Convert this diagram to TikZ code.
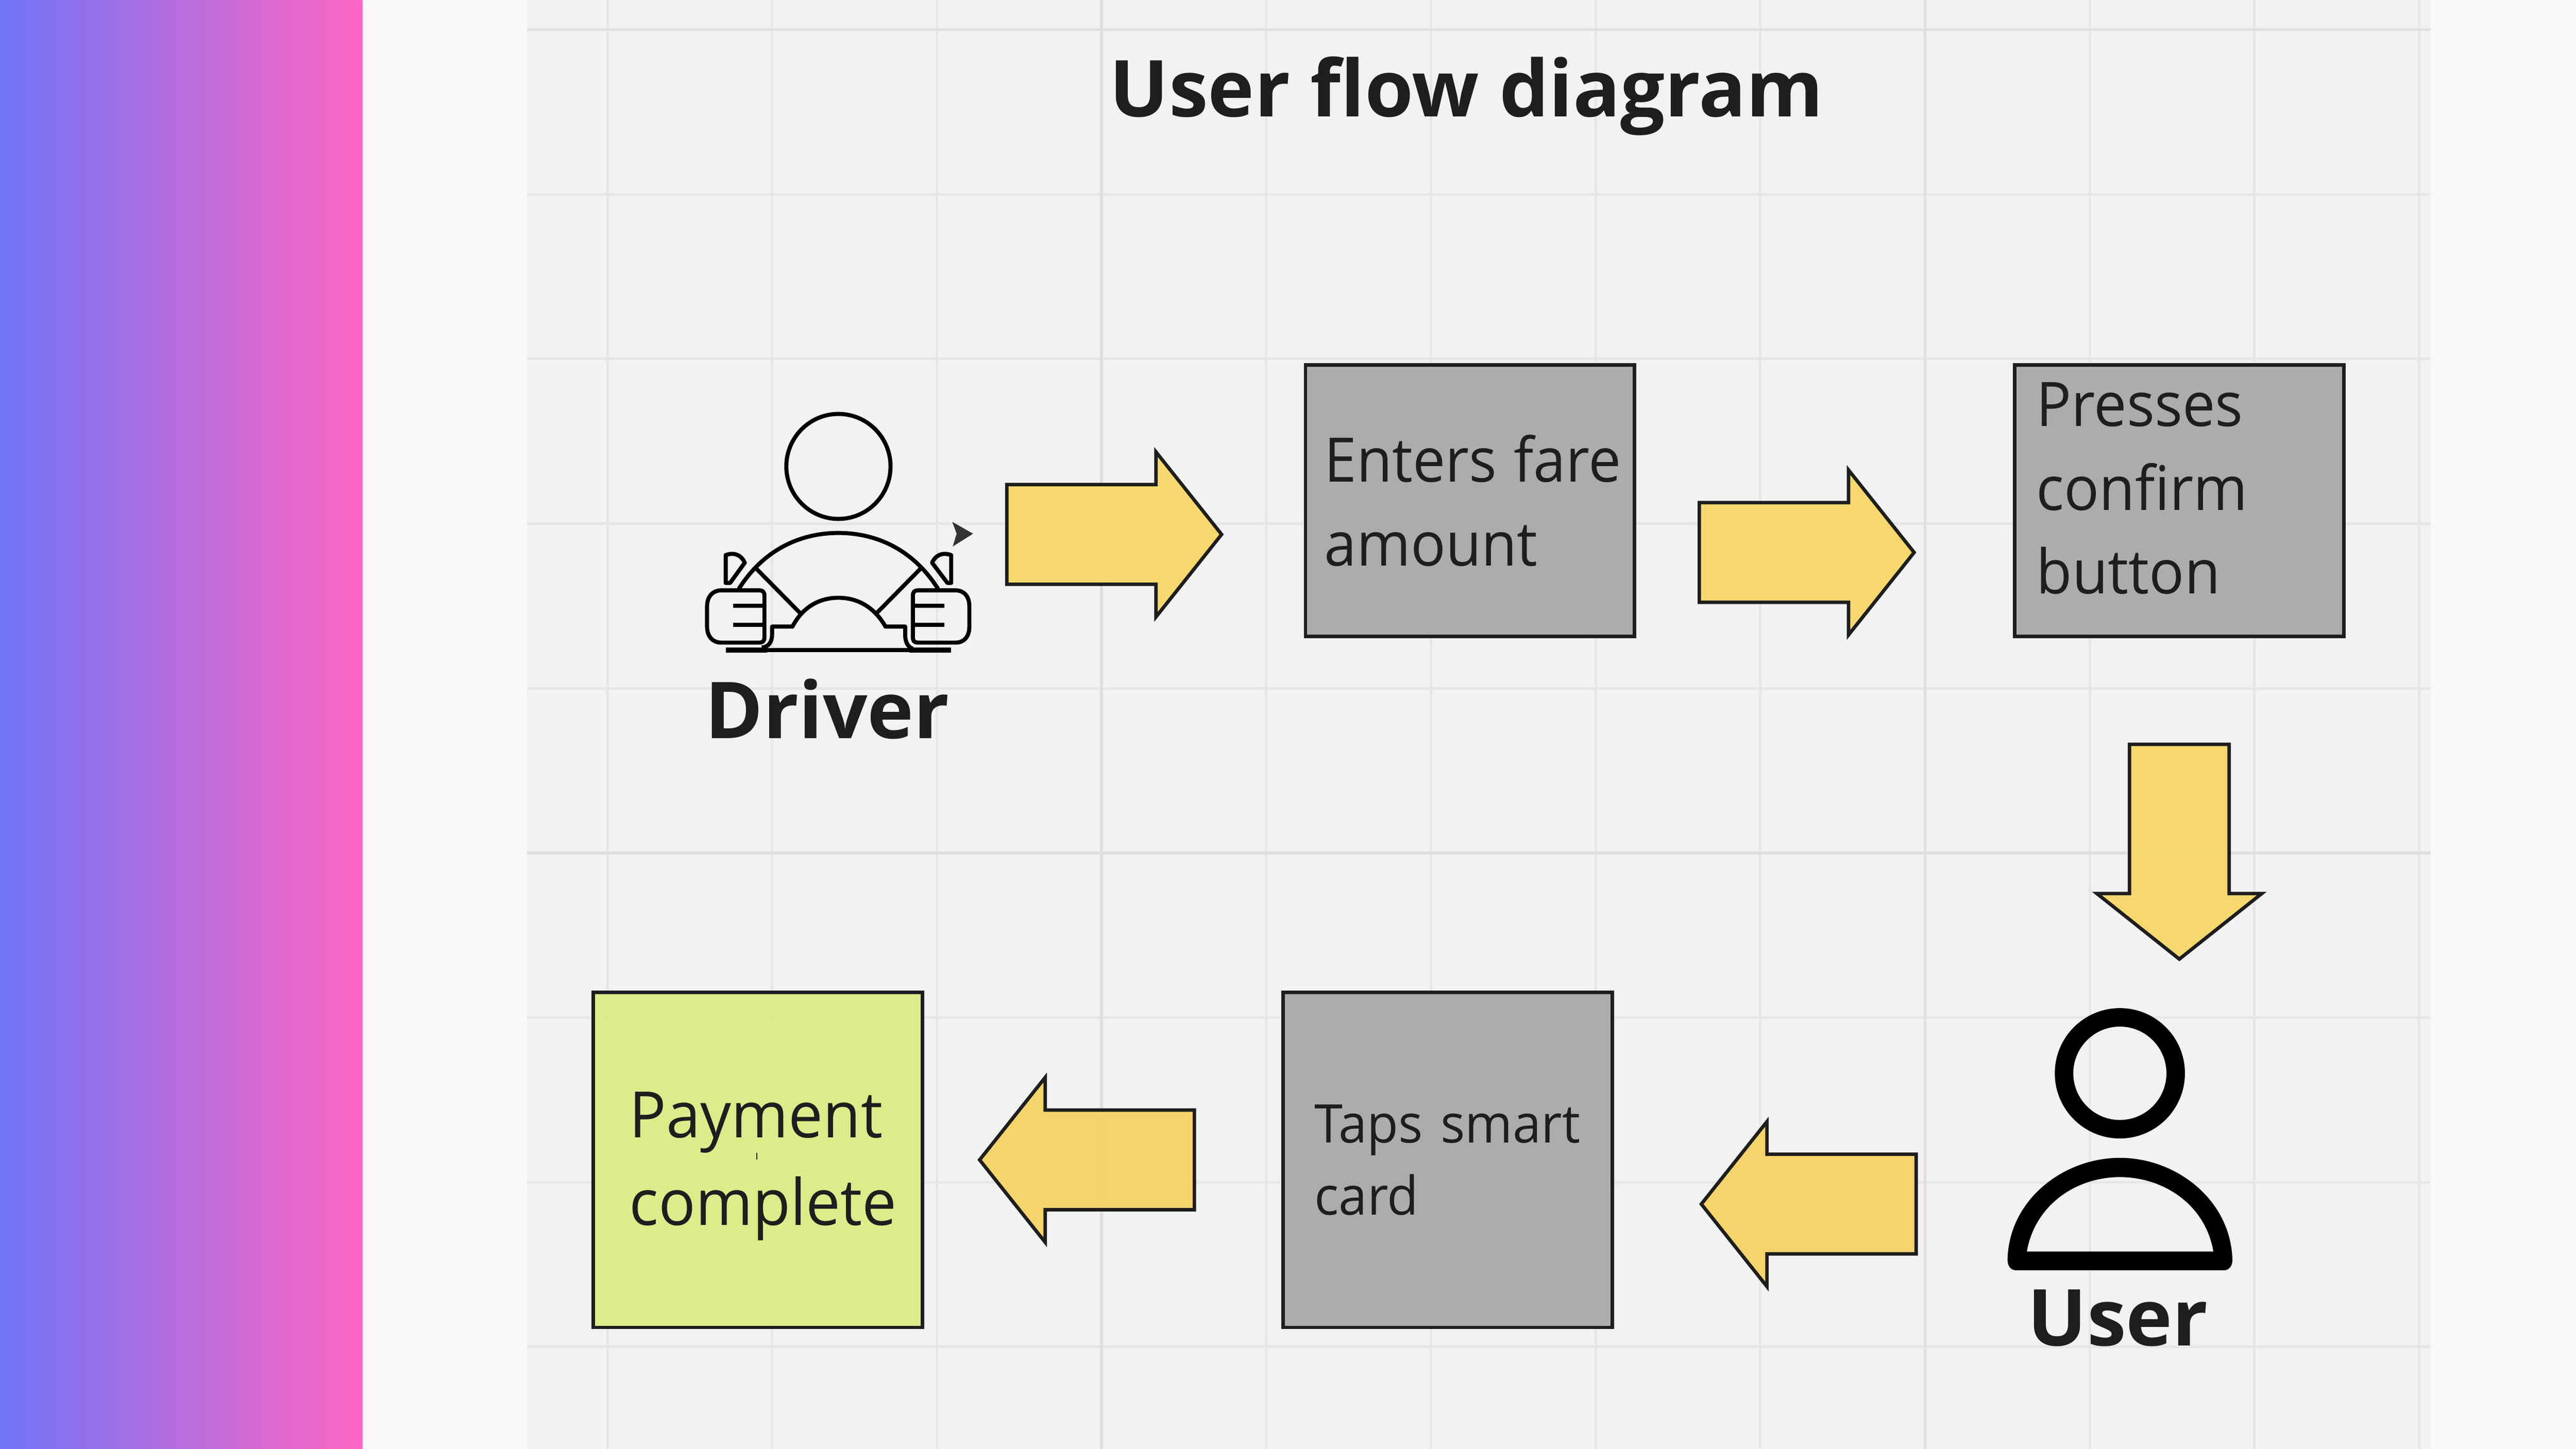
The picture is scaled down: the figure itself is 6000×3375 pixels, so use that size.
\documentclass[tikz,border=0pt]{standalone}
\usepackage{fontspec}
\setmainfont{Open Sans}
\usetikzlibrary{shapes.arrows}
\definecolor{bgpage}{HTML}{F9F9F9}
\definecolor{panel}{HTML}{F2F2F2}
\definecolor{gridminor}{HTML}{E6E6E6}
\definecolor{gridmajor}{HTML}{DFDFDF}
\definecolor{gradl}{HTML}{6F74F6}
\definecolor{gradr}{HTML}{FF66C4}
\definecolor{ink}{HTML}{1E1E1E}
\definecolor{stepgray}{HTML}{A9A9A9}
\definecolor{donegreen}{HTML}{DCEB86}
\definecolor{blockyellow}{HTML}{F7D769}
\definecolor{blockorange}{HTML}{F7D365}
\tikzset{
  x=0.01cm,y=-0.01cm,
  blockarrow/.style={single arrow,draw=ink,fill=blockyellow,fill opacity=0.95,line width=0.08cm,inner xsep=0pt,inner ysep=1.12cm,outer sep=0pt,
    minimum height=5cm,minimum width=3.76cm,single arrow head extend=0.76cm,single arrow tip angle=103,anchor=center},
  stepbox/.style={rectangle,draw=ink,line width=0.08cm,fill=stepgray,fill opacity=0.95,inner sep=0pt,outer sep=0pt,minimum width=7.66cm,anchor=center},
  steptext/.style={inner sep=0pt,outer sep=0pt,anchor=west,text width=8cm,align=left,text=ink},
  heading/.style={inner sep=0pt,outer sep=0pt,anchor=base,text=ink,font=\bfseries\fontsize{52}{60}\selectfont},
  icon/.style={draw=black,line width=0.095cm,line join=round},
}
\newcommand{\narrowfont}[3]{\fontsize{#1}{#2}\selectfont\addfontfeatures{FakeStretch=#3}}
\begin{document}
\begin{tikzpicture}
\useasboundingbox (0,0) rectangle (6000,3375);
\fill[bgpage] (0,0) rectangle (6000,3375);
\shade[left color=gradl,right color=gradr,shading angle=90] (0,0) rectangle (844,3375);
\fill[panel] (1227,0) rectangle (5662,3375);
\foreach \k in {0,...,11}{\draw[gridminor,line width=0.06cm] ({1415+383.6*\k},0) -- ({1415+383.6*\k},3375);}
\foreach \k in {1,2,3,4,6,7,8}{\draw[gridminor,line width=0.06cm] (1227,{69+383.6*\k}) -- (5662,{69+383.6*\k});}
\foreach \k in {0,5}{\draw[gridmajor,line width=0.07cm] (1227,{69+383.6*\k}) -- (5662,{69+383.6*\k});}
\foreach \k in {3,8}{\draw[gridmajor,line width=0.07cm] ({1415+383.6*\k},0) -- ({1415+383.6*\k},3375);}

\node[heading] (title) at (3416,272) {User flow diagram};

% step boxes
\node[stepbox,minimum height=6.32cm] (enter) at (3424,1166) {};
\node[stepbox,minimum height=6.32cm] (press) at (5076,1166) {};
\node[stepbox,minimum height=7.8cm] (taps) at (3372,2702) {};
\node[stepbox,minimum height=7.8cm,fill=donegreen] (paid) at (1765,2702) {};

\node[steptext,font=\narrowfont{40.7}{55.5}{0.945}] (enterT) at (3085,1166) {Enters\hspace{-2.3pt} fare\\amount};
\node[steptext,font=\narrowfont{40.7}{55.5}{0.95}] (pressT) at (4743,1138) {Presses\\confirm\\button};
\node[steptext,font=\narrowfont{35.3}{47.8}{0.96}] (tapsT) at (3062,2702) {Taps smart\\card};
\node[steptext,font=\narrowfont{42.4}{57.8}{0.96}] (paidT) at (1466,2717) {Payment\\complete};
\fill[ink] (1762,2686) rectangle (1764,2701);

% block arrows
\node[blockarrow] (a1) at (2549,1245) {};
\node[blockarrow] (a2) at (4162,1287) {};
\node[blockarrow,rotate=-90] (a3) at (5076,1938) {};
\node[blockarrow,rotate=180,fill=blockorange] (a4) at (4259,2805) {};
\node[blockarrow,rotate=180,fill=blockorange] (a5) at (2578,2702) {};

% driver icon
\begin{scope}[shift={(1550,900)},x=0.0051cm,y=-0.00574cm]
  \draw[icon] (790,325) ellipse [x radius=238,y radius=213];
  \draw[icon] (335,822) .. controls (450,660) and (620,595) .. (790,595) .. controls (960,595) and (1130,660) .. (1245,822);
  \draw[icon] (415,740) -- (615,920);
  \draw[icon] (1165,740) -- (965,920);
  \draw[icon] (487,1010) -- (487,975) -- (580,975)
     .. controls (630,890) and (710,858) .. (790,858) .. controls (870,858) and (950,890) .. (1005,975)
     -- (1095,975) -- (1095,1010) .. controls (1095,1040) and (1110,1060) .. (1130,1065);
  \draw[icon] (440,1060) .. controls (465,1058) and (485,1045) .. (487,1010);
  \draw[icon] (460,1070) -- (1120,1070);
  \draw[icon,line width=0.12cm] (275,1070) -- (465,1070);
  \draw[icon,line width=0.12cm] (1115,1070) -- (1305,1070);
  % hands
  \draw[icon] (255,828) -- (430,828) .. controls (445,828) and (452,835) .. (452,850) -- (452,1018)
     .. controls (452,1033) and (445,1040) .. (430,1040) -- (255,1040)
     .. controls (215,1040) and (190,1015) .. (190,975) -- (190,893)
     .. controls (190,853) and (215,828) .. (255,828) -- cycle;
  \draw[icon] (1325,828) -- (1152,828) .. controls (1137,828) and (1130,835) .. (1130,850) -- (1130,1018)
     .. controls (1130,1033) and (1137,1040) .. (1152,1040) -- (1325,1040)
     .. controls (1365,1040) and (1388,1015) .. (1388,975) -- (1388,893)
     .. controls (1388,853) and (1365,828) .. (1325,828) -- cycle;
  \draw[icon] (308,890) -- (445,890);
  \draw[icon] (308,967) -- (445,967);
  \draw[icon] (1135,890) -- (1275,890);
  \draw[icon] (1135,967) -- (1275,967);
  % mirrors
  \draw[icon] (275,798) -- (275,685) .. controls (320,670) and (350,690) .. (362,716) -- (295,798) -- cycle;
  \draw[icon] (1305,798) -- (1305,685) .. controls (1260,670) and (1230,690) .. (1218,716) -- (1288,798) -- cycle;
  \fill[black!80] (1310,550) -- (1405,598) -- (1312,650) -- (1330,598) -- cycle;
\end{scope}
\node[heading] (driver) at (1927,1720) {Driver};

% user icon
\begin{scope}[shift={(4500,2250)},x=0.0051cm,y=-0.00606cm]
  \draw[black,line width=0.43cm] (858,413) ellipse [x radius=255,y radius=215];
  \fill[black,even odd rule]
    (345,1130) .. controls (350,900) and (600,738) .. (858,738) .. controls (1116,738) and (1365,900) .. (1372,1130)
    .. controls (1372,1155) and (1355,1170) .. (1335,1170) -- (382,1170) .. controls (362,1170) and (345,1155) .. (345,1130) -- cycle
    (433,1098) -- (1285,1098) .. controls (1250,920) and (1060,812) .. (858,812) .. controls (656,812) and (470,920) .. (433,1098) -- cycle;
\end{scope}
\node[heading] (user) at (4933,3135) {User};
\end{tikzpicture}
\end{document}
